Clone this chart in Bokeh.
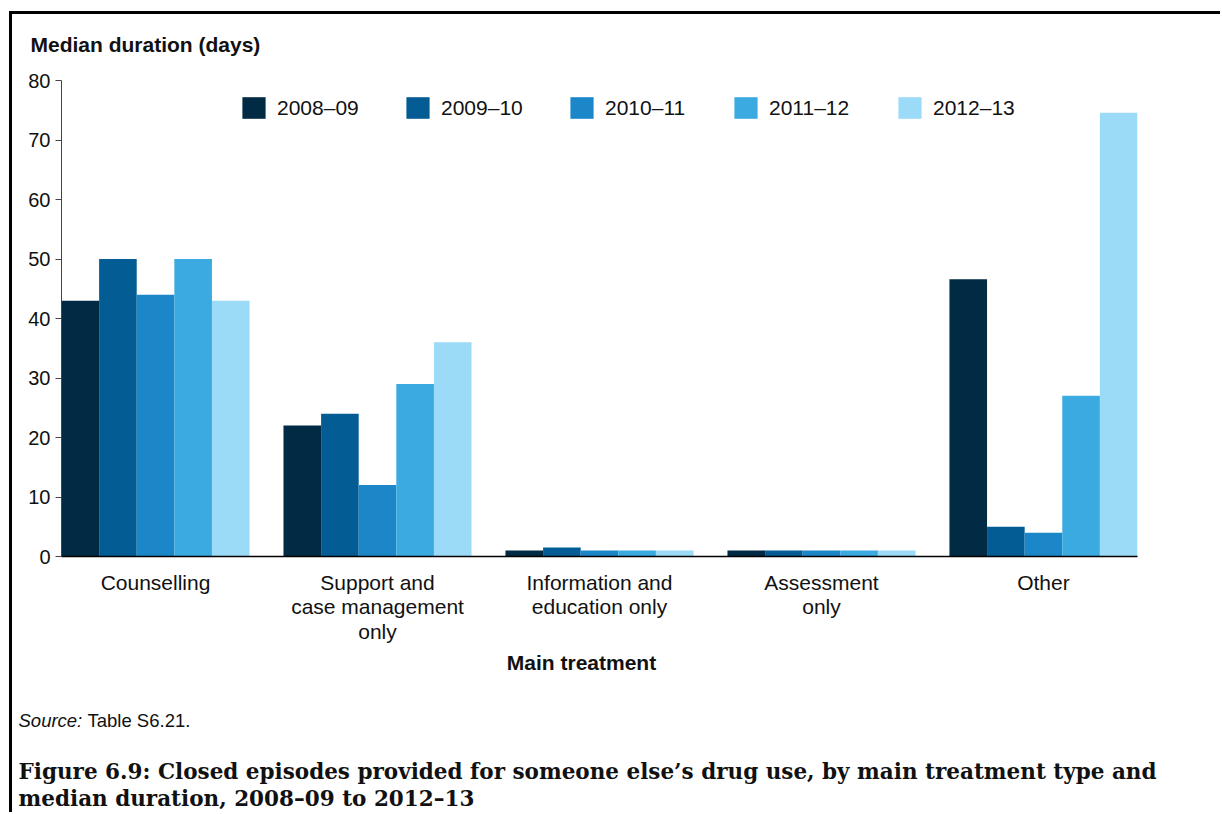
from bokeh.plotting import figure
from bokeh.models import ColumnDataSource, Range1d, FixedTicker, Legend, LegendItem, Label
from bokeh.transform import dodge
from bokeh.embed import file_html
from bokeh.resources import INLINE

# ---------------- data ----------------
categories = [
    "Counselling",
    "Support and\ncase management\nonly",
    "Information and\neducation only",
    "Assessment\nonly",
    "Other",
]
years = ["2008–09", "2009–10", "2010–11", "2011–12", "2012–13"]
v_2008_09 = [43, 22, 1, 1, 46.6]
v_2009_10 = [50, 24, 1.5, 1, 5]
v_2010_11 = [44, 12, 1, 1, 4]
v_2011_12 = [50, 29, 1, 1, 27]
v_2012_13 = [43, 36, 1, 1, 74.6]
y_ticks = [0, 10, 20, 30, 40, 50, 60, 70, 80]

y_title = "Median duration (days)"
x_title = "Main treatment"
source_lead = "Source:"
source_rest = "Table S6.21."
caption_1 = "Figure 6.9: Closed episodes provided for someone else’s drug use, by main treatment type and"
caption_2 = "median duration, 2008–09 to 2012–13"

series = [v_2008_09, v_2009_10, v_2010_11, v_2011_12, v_2012_13]
colors = ["#012a44", "#035d94", "#1c87c8", "#3aaae0", "#9cdbf8"]

SANS = "Liberation Sans"
SERIF = "DejaVu Serif"

group_width = 0.8472
bar_w = group_width / len(years)

data = {"pos": list(range(len(categories)))}
for y, s in zip(years, series):
    data[y] = s
src = ColumnDataSource(data)

p = figure(
    output_backend="svg",
    toolbar_location=None,
    frame_width=1076,
    frame_height=476,
    min_border_left=49,
    min_border_right=83,
    min_border_top=66,
    min_border_bottom=256,
    x_range=Range1d(-group_width / 2, len(categories) - 1 + group_width / 2),
    y_range=Range1d(0, 80),
)
p.styles = {
    "margin-left": "9px",
    "margin-top": "11px",
    "border-top": "3px solid black",
    "border-left": "3px solid black",
}
p.outline_line_color = None
p.xgrid.visible = False
p.ygrid.visible = False

renderers = []
for j, (y, c) in enumerate(zip(years, colors)):
    r = p.vbar(
        x=dodge("pos", (j - 2) * bar_w, range=p.x_range),
        top=y,
        width=bar_w,
        source=src,
        fill_color=c,
        line_color=None,
    )
    renderers.append(r)

xa = p.xaxis[0]
xa.ticker = FixedTicker(ticks=data["pos"])
xa.major_label_overrides = {i: c for i, c in enumerate(categories)}
xa.major_tick_line_color = None
xa.major_tick_out = 0
xa.major_tick_in = 0
xa.minor_tick_line_color = None
xa.axis_line_color = "black"
xa.axis_line_width = 1.5
xa.major_label_text_font = SANS
xa.major_label_text_font_size = "21px"
xa.major_label_text_color = "#111111"
xa.major_label_text_line_height = 1.07
xa.major_label_standoff = 14

ya = p.yaxis[0]
ya.ticker = FixedTicker(ticks=y_ticks)
ya.minor_tick_line_color = None
ya.major_tick_out = 6
ya.major_tick_in = 0
ya.axis_line_color = "#444444"
ya.major_tick_line_color = "#444444"
ya.major_label_text_font = SANS
ya.major_label_text_font_size = "20px"
ya.major_label_text_color = "#111111"
ya.major_label_standoff = 5

legend = Legend(
    items=[LegendItem(label=y, renderers=[r]) for y, r in zip(years, renderers)],
    location=(178, 435),
    orientation="horizontal",
    glyph_width=29,
    glyph_height=27,
    label_standoff=9,
    label_width=100,
    spacing=26,
    padding=0,
    margin=0,
    border_line_color=None,
    background_fill_alpha=0,
    label_text_font=SANS,
    label_text_font_size="21px",
    label_text_color="#111111",
)
p.add_layout(legend, "center")


def add_label(side, text, x, y, font=SANS, size="21px", style="normal", align="left"):
    p.add_layout(Label(
        x=x, y=y, x_units="screen", y_units="screen", text=text,
        text_font=font, text_font_size=size, text_font_style=style,
        text_align=align, text_baseline="alphabetic", text_color="#111111",
    ), side)


add_label("above", y_title, -31, 36, style="bold")
add_label("below", x_title, 520, 6, style="bold", align="center")
add_label("below", source_lead, -43, -30.7, size="18.5px", style="italic")
add_label("below", source_rest, 26, -10, size="18.5px")
add_label("below", caption_1, -43, -36.1, font=SERIF, size="21.5px", style="bold")
add_label("below", caption_2, -43, -38.1, font=SERIF, size="21.5px", style="bold")

open("out.html", "w").write(file_html(p, INLINE))
